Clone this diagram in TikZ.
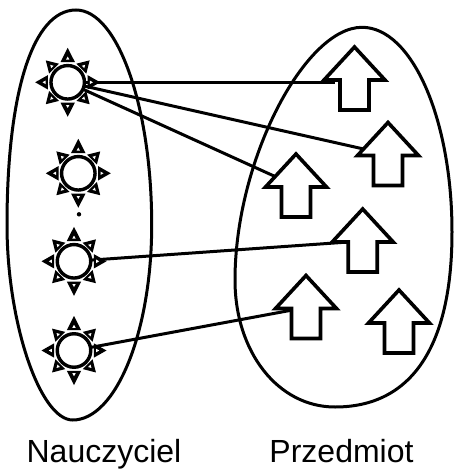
\documentclass[tikz,border=0pt]{standalone}
\usepackage{fontspec}
\setmainfont{Liberation Sans}
\tikzset{
  x=1pt,y=-1pt,
  setoutline/.style={draw=black,line width=3pt},
  sunnode/.style={circle,draw=black,fill=white,line width=3.4pt,minimum size=33.5pt,inner sep=0pt,outer sep=0pt},
  arrownode/.style={rectangle,minimum width=63pt,minimum height=64pt,inner sep=0pt,outer sep=0pt},
  link/.style={draw=black,line width=3pt},
  arrowshape/.style={draw=black,fill=white,line width=3.6pt,miter limit=10},
  label/.style={font=\fontsize{32}{36}\selectfont,text=black,inner sep=0pt,anchor=base},
}
\newcommand{\sunray}[5]{% node, angle, base, tip, half width
  \begin{scope}[shift={(#1.center)},rotate=#2]
    \fill[black] (#3,-#5) -- (#4,0) -- (#3,#5) -- cycle;
    \fill[white] (#3+2.4,-#5*0.24) -- (#3+5.4,0) -- (#3+2.4,#5*0.24) -- cycle;
  \end{scope}%
}
\newcommand{\sunrays}[1]{%
  \foreach \ang in {0,180}{\sunray{#1}{\ang}{19.8}{32.5}{7.2}}%
  \foreach \ang in {90,270}{\sunray{#1}{\ang}{20.3}{34.5}{7.2}}%
  \foreach \ang in {45,135,225,315}{\sunray{#1}{\ang}{19.3}{31}{7}}%
}
\newcommand{\arrowglyph}[1]{%
  \begin{scope}[shift={(#1.center)}]
    \draw[arrowshape] (0,-32) -- (30.5,1) -- (14.5,1) -- (14.5,31) -- (-14.5,31) -- (-14.5,1) -- (-30.5,1) -- cycle;
  \end{scope}%
}
\begin{document}
\begin{tikzpicture}
\useasboundingbox (0,0) rectangle (453,469);
\fill[white] (0,0) rectangle (453,469);
% teachers set
\draw[setoutline] (76,10) .. controls (117.6,10) and (151.7,106.7) .. (151.7,225)
  .. controls (151.7,332) and (116,420) .. (72.7,420)
  .. controls (40,420) and (7,322.5) .. (7,225)
  .. controls (7,92) and (33,10) .. cycle;
% subjects set
\draw[setoutline] (362,27.3) .. controls (412,27.3) and (452,119) .. (452,232)
  .. controls (452,346) and (412,407) .. (335,407)
  .. controls (278,407) and (235,352) .. (235,280)
  .. controls (235,160) and (305,27.3) .. cycle;
\node[sunnode] (s1) at (67.7,82.3) {};
\node[sunnode] (s2) at (78.3,173.3) {};
\node[sunnode] (s3) at (74,261.3) {};
\node[sunnode] (s4) at (74,350.5) {};
\node[arrownode] (a1) at (354.5,79) {};
\node[arrownode] (a2) at (388,154.5) {};
\node[arrownode] (a3) at (296,186) {};
\node[arrownode] (a4) at (362.7,241) {};
\node[arrownode] (a5) at (306,307.5) {};
\node[arrownode] (a6) at (399,322) {};
\coordinate (a1in) at (335,82.3);
\node[circle,fill=black,minimum size=4.4pt,inner sep=0pt] (dot) at (79,214.3) {};
\path[link] (s1) -- (a1in);
\path[link] (s1) -- (a2.center);
\path[link] (s1) -- (a3.center);
\path[link] (s3) -- (a4.center);
\path[link] (s4) -- (a5.center);
\sunrays{s1}\sunrays{s2}\sunrays{s3}\sunrays{s4}
\arrowglyph{a1}\arrowglyph{a2}\arrowglyph{a3}\arrowglyph{a4}\arrowglyph{a5}\arrowglyph{a6}
\node[label] (n1) at (104,462.5) {Nauczyciel};
\node[label] (n2) at (341.5,462.5) {Przedmiot};
\end{tikzpicture}
\end{document}
